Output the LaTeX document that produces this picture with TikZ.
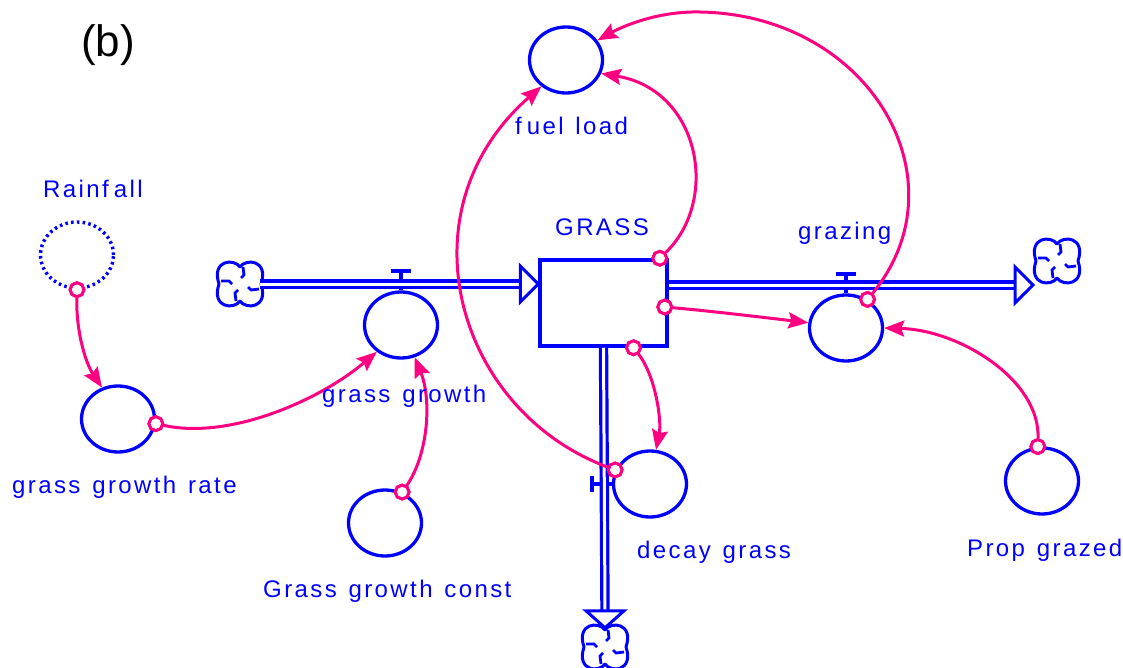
\documentclass[tikz,border=0pt]{standalone}
\usepackage{fontspec}
\setmainfont{Liberation Sans}[LetterSpace=10,WordSpace=1.3]
\newfontfamily\plainfont{Liberation Sans}
\usetikzlibrary{shapes.geometric,arrows.meta,calc}
\definecolor{vblue}{RGB}{0,0,255}
\definecolor{vpink}{RGB}{255,0,128}
\begin{document}
\begin{tikzpicture}[x=1pt,y=-1pt,
  aux/.style={ellipse,draw=vblue,line width=3.3pt,minimum width=73pt,minimum height=66pt,inner sep=0pt},
  lbl/.style={text=vblue,font=\fontsize{24}{24}\selectfont,anchor=base west,inner sep=0pt},
  stockbox/.style={draw=vblue,line width=3.5pt,minimum width=127pt,minimum height=86pt,inner sep=0pt},
  cloudn/.style={circle,minimum size=44pt,inner sep=0pt},
  cloudline/.style={draw=vblue,line width=3pt,line join=round},
  swirl/.style={draw=vblue,line width=2.8pt},
  pipe/.style={draw=vblue,line width=3.2pt,double=white,double distance=3pt},
  pipehead/.style={draw=vblue,fill=white,line width=3pt,line join=miter},
  valvebar/.style={draw=vblue,line width=4pt},
  valvestem/.style={draw=vblue,line width=3.2pt},
  mk/.style={regular polygon,regular polygon sides=8,draw=vpink,line width=2.8pt,minimum size=14pt,inner sep=0pt,fill=white,shape border rotate=22.5},
  conn/.style={draw=vpink,line width=3pt,-{Stealth[length=20pt,width=16pt,inset=3pt]}},
]
\useasboundingbox (0,0) rectangle (1123,668);

% auxiliaries
\node[aux] (fuel) at (566,60) {};
\node[aux,line width=3.4pt,dash pattern=on 2.6pt off 3.2pt] (rain) at (77,255) {};
\node[aux] (ggr) at (118,419) {};
\node[aux] (gg) at (401,325) {};
\node[aux] (ggc) at (385,523) {};
\node[aux] (graz) at (846,328) {};
\node[aux] (decay) at (650,484) {};
\node[aux] (prop) at (1042,481) {};

% stock and clouds
\node[stockbox] (stock) at (603.5,303) {};
\node[cloudn] (c1) at (240,284) {};
\node[cloudn] (c2) at (1057,261) {};
\node[cloudn] (c3) at (605,647) {};
\foreach \c in {c1,c2,c3}{
  \begin{scope}[shift={(\c.center)}]
    \draw[cloudline] (0,-17) .. controls (6,-26) and (29,-24) .. (21,0)
      .. controls (29,24) and (6,26) .. (0,17)
      .. controls (-6,26) and (-29,24) .. (-21,0)
      .. controls (-29,-24) and (-6,-26) .. (0,-17) -- cycle;
    \draw[swirl] (3,-17) -- (4,-9) -- (1,-6);
    \draw[swirl] (19,5) -- (11,6) -- (8,3);
    \draw[swirl] (-4,17) -- (-5,9) -- (-2,6);
    \draw[swirl] (-19,-3) -- (-11,-3) -- (-8,0);
  \end{scope}
}

% valves
\draw[valvestem] (gg.north) -- ++(0,-19) coordinate (v1);
\draw[valvebar] ([xshift=-10pt]v1) -- ([xshift=10pt]v1);
\draw[valvestem] (graz.north) -- ++(0,-19) coordinate (v2);
\draw[valvebar] ([xshift=-10pt]v2) -- ([xshift=10pt]v2);
\draw[valvestem] (decay.west) -- ++(-20,0) coordinate (v3);
\draw[valvebar] ([yshift=8pt]v3) -- ([yshift=-8pt]v3);

% flows
\coordinate (t1) at (stock.west |- c1.center);
\draw[pipe] ([xshift=-2pt]c1.east) -- ([xshift=-18pt]t1);
\draw[pipehead] (t1) -- ++(-18,-18) -- ++(0,36) -- cycle;
\coordinate (t2) at (1033,285);
\draw[pipe] (stock.east |- t2) -- ([xshift=-18pt]t2);
\draw[pipehead] (t2) -- ++(-18,-18) -- ++(0,36) -- cycle;
\coordinate (t3) at ([yshift=-3pt]c3.north);
\draw[pipe] (stock.south) -- ([yshift=17pt]t3);
\draw[pipehead] (t3) -- ++(-19,-17) -- ++(38,0) -- cycle;

% connectors
\node[mk] (m1) at (rain.south) {};
\node[mk] (m2) at (ggr.-7) {};
\node[mk] (m3) at (ggc.61) {};
\node[mk] (m4) at ([xshift=-9pt]stock.north east) {};
\node[mk] (m5) at (graz.53) {};
\node[mk] (m6) at (decay.158) {};
\node[mk] (m7) at ([xshift=-4pt,yshift=-4pt]stock.east) {};
\node[mk] (m8) at ([xshift=30pt]stock.south) {};
\node[mk] (m9) at (prop.97) {};
\draw[conn] (m1) .. controls (76,330) and (85,362) .. (ggr.117);
\draw[conn] (m2) .. controls (230,440) and (320,400) .. (gg.228);
\draw[conn] (m3) .. controls (428,455) and (432,400) .. (gg.293);
\draw[conn] (m4) .. controls (720,200) and (700,90) .. (fuel.339);
\draw[conn] (m5) .. controls (965,180) and (870,15) .. (700,12) .. controls (660,11) and (625,25) .. (fuel.32);
\draw[conn] (m6) .. controls (455,410) and (400,210) .. (fuel.227);
\draw[conn] (m7) .. controls (710,311) and (760,317) .. (graz.172);
\draw[conn] (m8) .. controls (655,375) and (662,420) .. (decay.80);
\draw[conn] (m9) .. controls (1040,380) and (960,330) .. (graz.0);
\foreach \m in {m1,m2,m3,m4,m5,m6,m7,m8,m9}{\node[mk,fill=none] at (\m) {};}

% labels
\node[text=black,font=\plainfont\fontsize{44}{44}\selectfont,inner sep=0pt,anchor=base] (lb) at (108,57) {(b)};
\node[lbl] (lrain) at (43,198) {Rainf\kern5pt all};
\node[lbl] (lfuel) at (515,135) {f\kern5pt uel load};
\node[lbl] (lstock) at (555,236) {GRASS};
\node[lbl] (lgraz) at (798,240) {grazing};
\node[lbl] (lgg) at (322,402) {grass growth};
\node[lbl] (lggr) at (12,493) {grass growth rate};
\node[lbl] (lggc) at (263,597) {Grass growth const};
\node[lbl] (ldecay) at (637,558) {decay grass};
\node[lbl] (lprop) at (967,556) {Prop grazed};
\end{tikzpicture}
\end{document}
